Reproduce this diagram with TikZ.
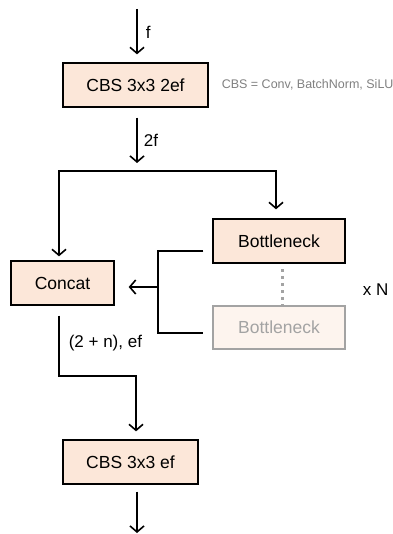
\documentclass[tikz,border=0pt]{standalone}
\usepackage{fontspec}
\setmainfont{Liberation Sans}
\usetikzlibrary{arrows.meta}
\definecolor{peach}{HTML}{FCE7D9}
\definecolor{paleorange}{HTML}{FDF4EE}
\definecolor{fadegray}{HTML}{A3A3A3}
\begin{document}
\begin{tikzpicture}[x=1pt, y=-1pt, line width=1.6pt,
		>={Straight Barb[length=6pt, width=14pt, line width=1.6pt]},
		block/.style={draw, line width=1.3pt, fill=peach, inner sep=0pt, font=\fontsize{17.5}{20}\selectfont},
		faded/.style={block, draw=fadegray, fill=paleorange, text=fadegray},
		lbl/.style={anchor=west, inner sep=0pt, font=\fontsize{17}{20}\selectfont}]
		\useasboundingbox (0,0) rectangle (392,534);
		
		%blocks
		\node[block, minimum width=145, minimum height=44] (cbsa) at (135.5,85){CBS 3x3 2ef};
		\node[block, minimum width=103, minimum height=44] (concat) at (62.5,283){Concat};
		\node[block, minimum width=132, minimum height=44] (bneck) at (279,241){Bottleneck};
		\node[faded, minimum width=132, minimum height=43] (bnecklast) at (279,327.5){Bottleneck};
		\node[block, minimum width=135, minimum height=44] (cbsb) at (130.5,462){CBS 3x3 ef};
		
		%side notes
		\node[anchor=west, inner sep=0pt, text=gray, font=\fontsize{12.5}{15}\selectfont] (note) at (221,85){CBS = Conv, BatchNorm, SiLU};
		\node[lbl] (times) at (362,290){x N};
		
		%input and split
		\coordinate (in) at (137,9);
		\coordinate (split) at (137,171);
		\coordinate (sl) at (59,171);
		\coordinate (sr) at (276,171);
		\draw[->, shorten >=8pt] (in) -- (in |- cbsa.north);
		\node[lbl] (f) at (145,32){f};
		\draw[->, shorten <=10pt, shorten >=8pt] (split |- cbsa.south) -- (split);
		\node[lbl] (ftwo) at (143,140){2f};
		\draw[->, shorten >=4pt] (sr) -- (sl) -- (sl |- concat.north);
		\draw[->, shorten >=9pt] (sl) -- (sr) -- (sr |- bneck.north);
		
		%bottleneck outputs
		\coordinate (bt) at (158,251);
		\coordinate (bb) at (158,333);
		\coordinate (bm) at (158,287);
		\draw[shorten <=9pt, shorten >=9pt] (bneck.west |- bt) -- (bt) -- (bb) -- (bnecklast.west |- bb);
		\draw[->, shorten >=14pt] (bm) -- (concat.east |- bm);
		\draw[fadegray, line width=3pt, dash pattern=on 3pt off 4pt] (282,269) -- (282,308);
		
		%output
		\coordinate (ja) at (59,376);
		\coordinate (jb) at (136,376);
		\coordinate (out) at (137,533);
		\draw[->, shorten <=10pt, shorten >=8pt] (ja |- concat.south) -- (ja) -- (jb) -- (jb |- cbsb.north);
		\node[lbl] (cat) at (68,343){(2 + n), ef};
		\draw[->, shorten <=7pt] (out |- cbsb.south) -- (out);
\end{tikzpicture}
\end{document}
